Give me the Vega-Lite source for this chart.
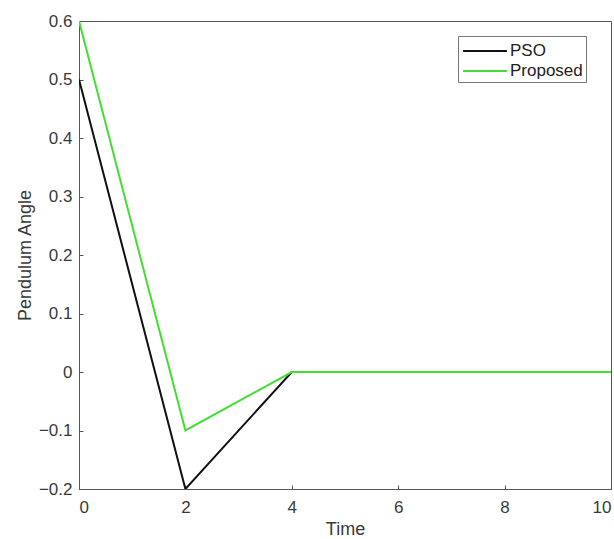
{
  "$schema": "https://vega.github.io/schema/vega-lite/v6.json",
  "width": 532,
  "height": 468,
  "autosize": "none",
  "padding": {"left": 79, "top": 21, "right": 3, "bottom": 50},
  "background": "white",
  "config": {
    "font": "Liberation Sans",
    "view": {"stroke": "#555555", "strokeWidth": 1}
  },
  "data": {
    "values": [
      {"t": 0, "v": 0.5, "s": "PSO"},
      {"t": 2, "v": -0.2, "s": "PSO"},
      {"t": 4, "v": 0, "s": "PSO"},
      {"t": 10, "v": 0, "s": "PSO"},
      {"t": 0, "v": 0.6, "s": "Proposed"},
      {"t": 2, "v": -0.1, "s": "Proposed"},
      {"t": 4, "v": 0, "s": "Proposed"},
      {"t": 10, "v": 0, "s": "Proposed"}
    ]
  },
  "layer": [
    {
      "mark": {"type": "line", "strokeWidth": 2, "clip": true},
      "encoding": {
        "x": {
          "field": "t", "type": "quantitative",
          "scale": {"domain": [0, 10], "nice": false},
          "axis": {
            "title": "Time", "values": [0, 2, 4, 6, 8, 10],
            "grid": false, "tickSize": -4, "labelPadding": 14,
            "labelFontSize": 17, "labelColor": "#3a3a3a",
            "titleFontSize": 18, "titleFontWeight": "normal", "titleColor": "#3a3a3a",
            "titlePadding": 5, "domainColor": "#555555", "tickColor": "#555555"
          }
        },
        "y": {
          "field": "v", "type": "quantitative",
          "scale": {"domain": [-0.2, 0.6], "nice": false, "zero": false},
          "axis": {
            "title": "Pendulum Angle", "values": [-0.2, -0.1, 0, 0.1, 0.2, 0.3, 0.4, 0.5, 0.6],
            "format": ".1~f",
            "grid": false, "tickSize": -4, "labelPadding": 11,
            "labelFontSize": 17, "labelColor": "#3a3a3a",
            "titleFontSize": 18, "titleFontWeight": "normal", "titleColor": "#3a3a3a",
            "titlePadding": 4, "domainColor": "#555555", "tickColor": "#555555"
          }
        },
        "color": {
          "field": "s", "type": "nominal",
          "scale": {"domain": ["PSO", "Proposed"], "range": ["#111111", "#44dd33"]},
          "legend": {
            "title": null, "orient": "none", "legendX": 379, "legendY": 15,
            "symbolType": "M-2,0H2", "symbolSize": 480, "symbolStrokeWidth": 2,
            "symbolOffset": 12,
            "labelFontSize": 17, "labelColor": "#222222",
            "strokeColor": "#777777", "fillColor": "white", "padding": 3,
            "rowPadding": 0, "labelOffset": 13
          }
        }
      }
    }
  ]
}
